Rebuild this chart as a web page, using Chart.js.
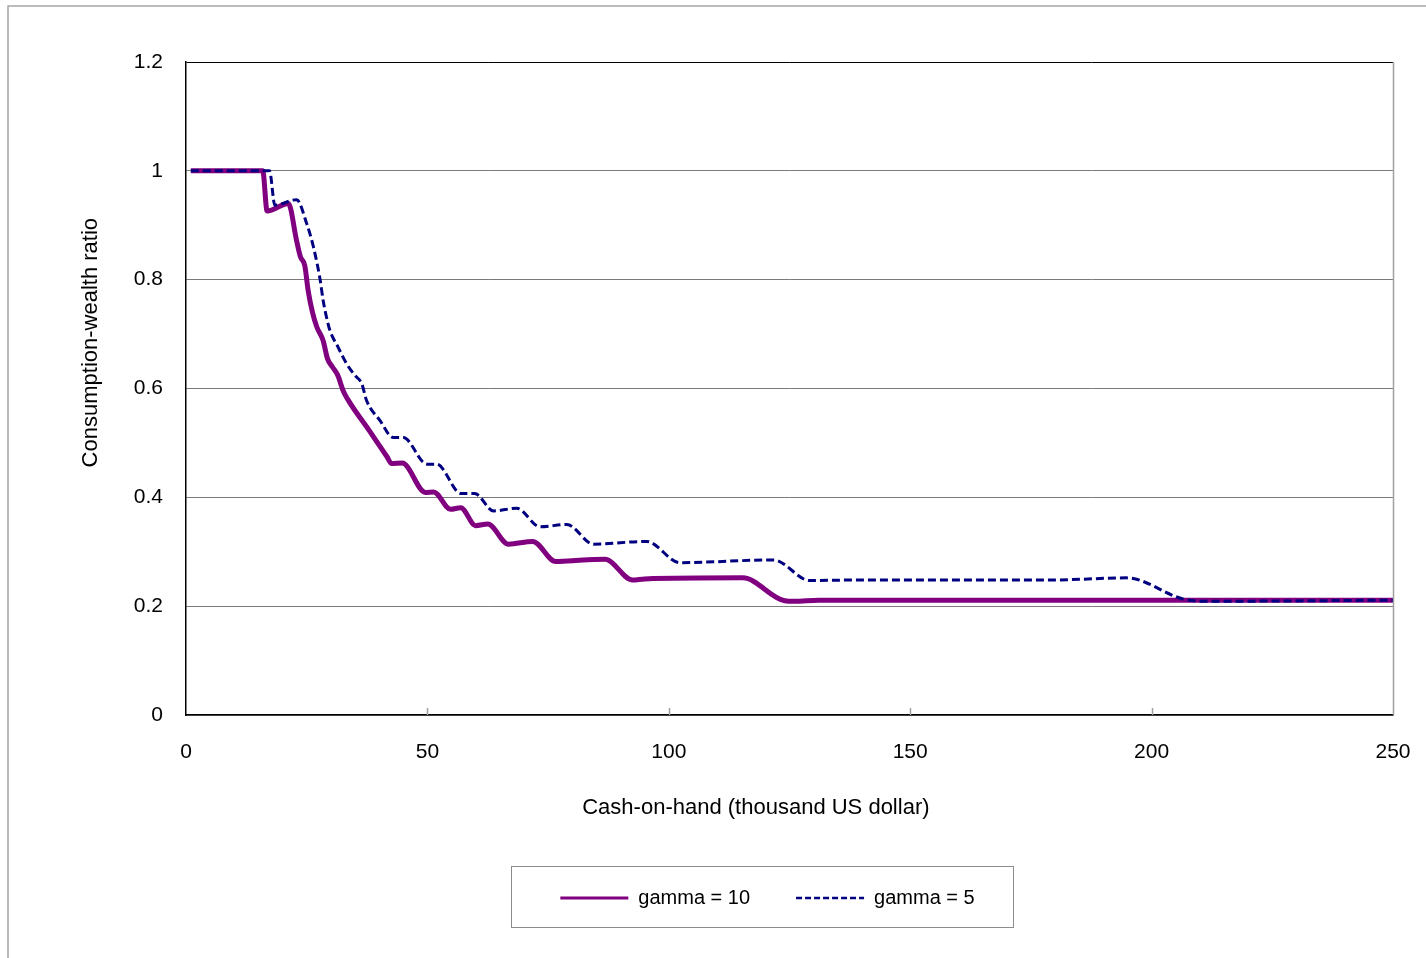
<!DOCTYPE html>
<html>
<head>
<meta charset="utf-8">
<script src="https://cdn.jsdelivr.net/npm/chart.js@4.4.0/dist/chart.umd.min.js"></script>
<style>
    html, body { margin: 0; padding: 0; background: #fff; }
    #wrap { width: 1426px; height: 958px; }
</style>
</head>
<body>
<div id="wrap"><canvas id="chart"></canvas></div>
<script>
// values
const seriesNames = ['gamma = 10', 'gamma = 5'];

const gamma10X = [1, 15.9, 16.8, 21.2, 22.9, 23.7, 24.6, 25.3, 26.2, 27.1, 28.4, 29.3, 30.3, 31.4, 32.6, 33.5,
    38.0, 41.6, 42.6, 44.8, 49.6, 51.3, 54.8, 56.9, 60.0, 62.5, 66.8, 71.8, 76.6, 79.0, 86.8, 92.5, 95.0,
    115.3, 124.0, 126.0, 131.0, 250];
const gamma10Y = [1.0, 1.0, 0.926, 0.94, 0.872, 0.842, 0.826, 0.78, 0.74, 0.713, 0.688, 0.655, 0.64, 0.625, 0.595, 0.58,
    0.522, 0.475, 0.462, 0.463, 0.409, 0.410, 0.378, 0.381, 0.348, 0.351, 0.314, 0.319, 0.282, 0.283, 0.286, 0.248, 0.250,
    0.252, 0.210, 0.209, 0.211, 0.211];

const gamma5X = [1, 17.3, 18.4, 22.9, 25.0, 26.4, 27.8, 28.4, 29.1, 29.8, 31.5, 33.3, 35.0, 36.4, 37.4, 40.2,
    42.9, 45.0, 49.9, 51.9, 57.0, 59.8, 63.7, 68.5, 73.3, 78.9, 84.4, 95.4, 102.3, 121.7, 129.2, 137.5,
    179.0, 194.8, 206.6, 210.7, 250];
const gamma5Y = [1.0, 1.0, 0.937, 0.947, 0.903, 0.86, 0.799, 0.762, 0.731, 0.707, 0.676, 0.645, 0.624, 0.609, 0.578, 0.541,
    0.510, 0.510, 0.461, 0.461, 0.407, 0.407, 0.375, 0.380, 0.346, 0.350, 0.314, 0.319, 0.280, 0.285, 0.247, 0.248,
    0.248, 0.252, 0.213, 0.209, 0.211];

const xTickValues = [0, 50, 100, 150, 200, 250];
const yTickValues = [0, 0.2, 0.4, 0.6, 0.8, 1, 1.2];
const yTickLabels = ['0', '0.2', '0.4', '0.6', '0.8', '1', '1.2'];

// trailing / leading spaces move the titles off-centre like in the original
const xTitle = 'Cash-on-hand (thousand US dollar)' + '\u00a0'.repeat(11);
const yTitle = '\u00a0'.repeat(15) + 'Consumption-wealth ratio';

function toPoints(xs, ys) {
    return xs.map((x, i) => ({ x: x, y: ys[i] }));
}

Chart.defaults.font.family = '"Liberation Sans", Arial, sans-serif';
Chart.defaults.font.size = 20;
Chart.defaults.color = '#000';

// frame, right border, inner x tick marks and legend box
const decorations = {
    id: 'decorations',
    afterLayout(chart) {
        // legend sits a bit left of the plot centre
        chart.legend.left -= 22;
        chart.legend.right -= 22;
    },
    beforeDraw(chart) {
        const ctx = chart.ctx;
        ctx.save();
        ctx.strokeStyle = '#a6a6a6';
        ctx.lineWidth = 1.5;
        ctx.beginPath();
        ctx.moveTo(8, chart.height);
        ctx.lineTo(8, 6);
        ctx.lineTo(chart.width, 6);
        ctx.stroke();
        ctx.restore();
    },
    afterDraw(chart) {
        const ctx = chart.ctx;
        const area = chart.chartArea;
        const xScale = chart.scales.x;
        ctx.save();
        ctx.strokeStyle = '#a0a0a0';
        ctx.lineWidth = 1.5;
        xScale.ticks.forEach(t => {
            if (t.value <= 0 || t.value >= 250) return;
            const px = Math.round(xScale.getPixelForValue(t.value)) + 0.5;
            ctx.beginPath();
            ctx.moveTo(px, area.bottom);
            ctx.lineTo(px, area.bottom - 7);
            ctx.stroke();
        });
        ctx.beginPath();
        ctx.moveTo(Math.round(area.right) + 0.5, area.top);
        ctx.lineTo(Math.round(area.right) + 0.5, area.bottom);
        ctx.stroke();

        ctx.strokeStyle = '#8c8c8c';
        ctx.lineWidth = 1;
        ctx.strokeRect(511.5, 866.5, 502, 61);
        ctx.restore();
    }
};

const ctx = document.getElementById('chart').getContext('2d');
const chart = new Chart(ctx, {
    type: 'line',
    data: {
        datasets: [
            {
                label: seriesNames[0],
                data: toPoints(gamma10X, gamma10Y),
                borderColor: '#800080',
                backgroundColor: '#800080',
                borderWidth: 5,
                pointRadius: 0,
                cubicInterpolationMode: 'monotone',
                order: 1
            },
            {
                label: seriesNames[1],
                data: toPoints(gamma5X, gamma5Y),
                borderColor: '#000080',
                backgroundColor: '#000080',
                borderWidth: 3,
                borderDash: [8, 4],
                pointRadius: 0,
                cubicInterpolationMode: 'monotone',
                order: 0
            }
        ]
    },
    options: {
        responsive: true,
        maintainAspectRatio: false,
        animation: false,
        layout: {
            padding: { left: 78, right: 33, top: 62, bottom: 40 }
        },
        plugins: {
            tooltip: { enabled: false },
            legend: {
                position: 'bottom',
                fullSize: false,
                labels: {
                    usePointStyle: true,
                    pointStyle: 'line',
                    pointStyleWidth: 68,
                    boxWidth: 68,
                    boxHeight: 20,
                    padding: 46,
                    font: { size: 20 },
                    color: '#000',
                    sort: (a, b) => a.datasetIndex - b.datasetIndex,
                    generateLabels(chart) {
                        const items = Chart.defaults.plugins.legend.labels.generateLabels(chart);
                        items.forEach(item => {
                            item.lineWidth = item.datasetIndex === 0 ? 3 : 2.5;
                            item.lineDash = item.datasetIndex === 0 ? [] : [6, 3];
                        });
                        return items;
                    }
                }
            }
        },
        scales: {
            x: {
                type: 'linear',
                min: 0,
                max: 250,
                afterBuildTicks(scale) {
                    scale.ticks = xTickValues.map(v => ({ value: v }));
                },
                afterFit(scale) {
                    scale.height = 127;
                },
                ticks: {
                    padding: 0,
                    color: '#000',
                    font: { size: 21 },
                    callback: (v) => String(v)
                },
                grid: {
                    display: true,
                    drawOnChartArea: false,
                    drawTicks: true,
                    tickLength: 25,
                    tickColor: 'rgba(0,0,0,0)'
                },
                border: { display: true, color: '#000', width: 1.5 },
                title: {
                    display: true,
                    text: xTitle,
                    color: '#000',
                    font: { size: 22 },
                    padding: { top: 0, bottom: 21 }
                }
            },
            y: {
                min: 0,
                max: 1.2,
                afterBuildTicks(scale) {
                    scale.ticks = yTickValues.map(v => ({ value: v }));
                },
                afterFit(scale) {
                    scale.width = 108;
                },
                ticks: {
                    padding: 23,
                    color: '#000',
                    font: { size: 21 },
                    callback: (v, i) => yTickLabels[i]
                },
                grid: {
                    drawTicks: false,
                    lineWidth: 1,
                    color: (c) => (c.tick && c.tick.value === 1.2 ? '#000' : '#7a7a7a')
                },
                border: { display: true, color: '#000', width: 1.5 },
                title: {
                    display: true,
                    text: yTitle,
                    color: '#000',
                    font: { size: 22 },
                    padding: { top: 0, bottom: 0 }
                }
            }
        }
    },
    plugins: [decorations]
});
</script>
</body>
</html>
